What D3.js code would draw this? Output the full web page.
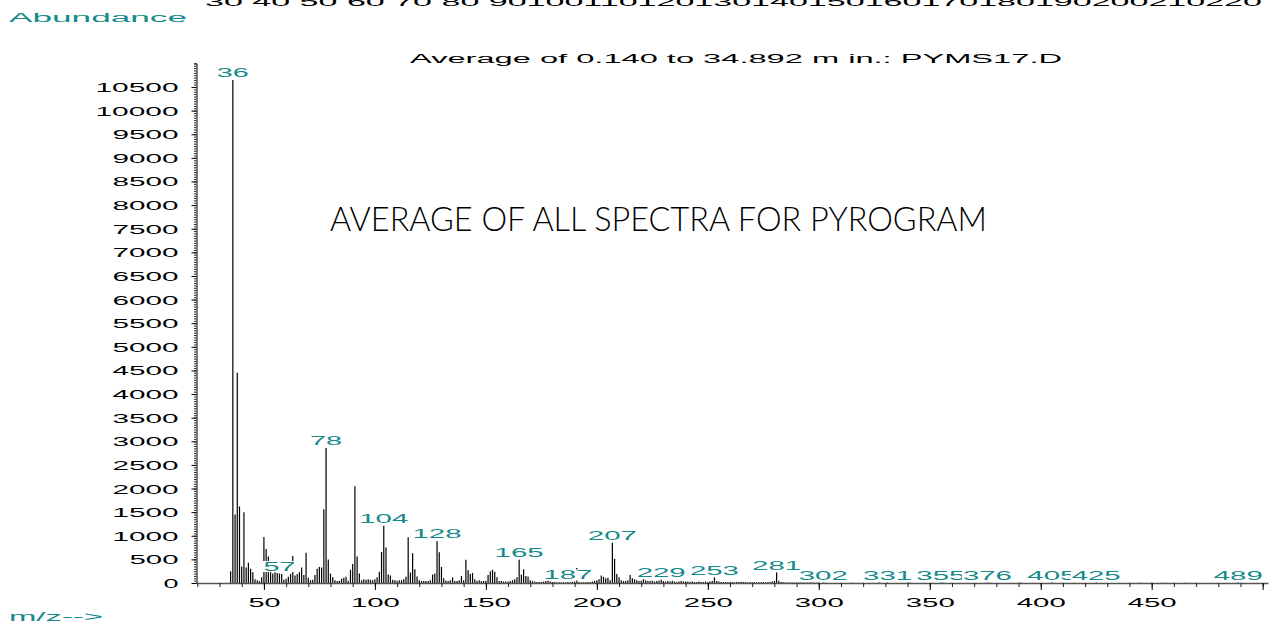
<!DOCTYPE html>
<html><head><meta charset="utf-8">
<script src="https://cdn.jsdelivr.net/npm/d3@7"></script>
<style>html,body{margin:0;padding:0;background:#fff;overflow:hidden}svg{display:block}</style>
</head><body>
<svg id="chart" width="1272" height="627"></svg>
<script>
// ---- data ----
const segAStart = 35;   // m/z 35..99
const segA = [250,10650,1450,4450,1620,350,1500,330,430,300,230,80,60,40,120,
  975,720,560,230,200,230,210,200,190,70,
  90,130,190,570,160,190,230,330,170,640,
  110,60,70,170,300,340,330,1560,2860,500,
  200,120,60,40,50,90,110,130,50,280,
  400,2050,560,200,60,80,70,80,70,60];
const segBStart = 100;  // m/z 100..199
const segB = [80,120,240,660,1210,750,180,160,70,60,
  50,60,60,80,130,970,220,630,290,140,
  60,40,40,40,40,60,180,200,890,650,
  340,100,50,40,60,120,40,40,60,150,
  60,490,270,190,210,80,40,60,40,40,
  50,170,250,280,240,120,40,40,30,30,
  30,40,60,80,120,490,180,290,150,140,
  60,40,30,20,20,20,30,40,60,30,
  20,20,15,15,15,15,15,20,15,20,
  30,320,20,15,15,15,20,20,30,40];
const segCStart = 200;  // m/z 200..300
const segC = [60,80,160,130,100,110,60,850,510,190,
  120,60,40,40,60,170,100,80,60,40,
  50,80,60,40,40,50,30,40,50,70,
  40,30,40,30,50,30,20,30,40,30,
  30,30,20,30,20,20,30,20,20,30,
  20,30,40,120,40,30,20,20,20,20,
  20,20,15,20,20,25,20,20,15,15,
  15,20,15,15,15,20,15,15,20,30,
  40,220,50,20,15,15,10,10,10,10,
  10,10,8,8,8,10,8,8,8,8,8];
const tailMz = [302,303,315,320,327,331,340,341,355,356,376,377,391,405,415,425,440,445,450,455,460,465,470,489];
const tailAbund = [10,5,6,6,8,10,6,8,8,5,8,5,8,8,6,8,6,6,6,6,6,6,6,8];
const labeledPeaks = [36,57,78,104,128,165,187,207,229,253,281,302,331,355,376,405,425,489];
const yMajorTicks = [0,500,1000,1500,2000,2500,3000,3500,4000,4500,5000,5500,6000,6500,7000,7500,8000,8500,9000,9500,10000,10500];
const xMajorTicks = [50,100,150,200,250,300,350,400,450,500];
const xTickLabels = ["50","100","150","200","250","300","350","400","450",""];
const topRuler = "30 40 50 60 70 80 90100110120130140150160170180190200210220";
const titleText = "Average of 0.140 to 34.892 m in.: PYMS17.D";
const noteText = "AVERAGE OF ALL SPECTRA FOR PYROGRAM";

// ---- build spectrum ----
const spectrum = [];
segA.forEach((v,i)=>spectrum.push({mz:segAStart+i, ab:v}));
segB.forEach((v,i)=>spectrum.push({mz:segBStart+i, ab:v}));
segC.forEach((v,i)=>spectrum.push({mz:segCStart+i, ab:v}));
tailMz.forEach((m,i)=>spectrum.push({mz:m, ab:tailAbund[i]}));
const abOf = m => { const p = spectrum.find(d=>d.mz===m); return p ? p.ab : 0; };

const teal = "#148a8a";
const font = "'Liberation Sans', Arial, sans-serif";
const svg = d3.select("#chart");

const x = d3.scaleLinear().domain([19.4, 502.4]).range([196, 1268]);
const y = d3.scaleLinear().domain([0, 11000]).range([583, 63.4]);

function wideText(sel, str, len, size){
  sel.text(str).attr("font-family", font).attr("font-size", size)
    .attr("textLength", len).attr("lengthAdjust","spacingAndGlyphs");
  return sel;
}

// top cut-off ruler
wideText(svg.append("text").attr("x",205).attr("y",5.5).attr("fill","#000"), topRuler, 1057, 12.5);

// Abundance
wideText(svg.append("text").attr("x",9).attr("y",21.5).attr("fill",teal), "Abundance", 178, 12.5);

// title
wideText(svg.append("text").attr("x",410).attr("y",62.5).attr("fill","#000"), titleText, 652, 12.5);

// big note
svg.append("text").attr("x",330).attr("y",231).attr("fill","#000")
  .attr("font-family","Lato, 'Liberation Sans', sans-serif").attr("font-weight",300)
  .attr("font-size",33).attr("textLength",657).attr("lengthAdjust","spacingAndGlyphs")
  .text(noteText);

// y axis minor ticks
const yMinor = d3.range(0, 11001, 50);
svg.append("g").attr("transform","translate(196.5,0)")
  .call(d3.axisLeft(y).tickValues(yMinor).tickSize(2.5).tickFormat(""))
  .call(g=>g.select(".domain").attr("stroke","#000"))
  .call(g=>g.selectAll(".tick line").attr("stroke","#222"));
// y axis major
const yAx = svg.append("g").attr("transform","translate(196.5,0)")
  .call(d3.axisLeft(y).tickValues(yMajorTicks).tickSize(5).tickPadding(13).tickFormat(d3.format("d")))
  .call(g=>g.select(".domain").remove());
yAx.selectAll(".tick line").attr("stroke","#000");
yAx.selectAll(".tick text").each(function(d){
  const s = String(d);
  d3.select(this).attr("font-family",font).attr("font-size",12.5).attr("fill","#000")
    .attr("textLength",17*s.length-2).attr("lengthAdjust","spacingAndGlyphs").attr("dy","0.36em");
});

// bars
svg.append("g").selectAll("line.bar").data(spectrum).join("line")
  .attr("class","bar")
  .attr("x1",d=>x(d.mz)).attr("x2",d=>x(d.mz))
  .attr("y1",y(0)).attr("y2",d=>y(d.ab))
  .attr("stroke","#000").attr("stroke-width",1.2);

// x axis minor
const xMinor = d3.range(20, 501, 10);
svg.append("g").attr("transform","translate(0,583)")
  .call(d3.axisBottom(x).tickValues(xMinor).tickSize(4).tickFormat("").tickSizeOuter(0))
  .call(g=>g.select(".domain").attr("stroke","#555").attr("stroke-width",1.6))
  .call(g=>g.selectAll(".tick line").attr("stroke","#222"));
const xAx = svg.append("g").attr("transform","translate(0,583)")
  .call(d3.axisBottom(x).tickValues(xMajorTicks).tickSize(7).tickPadding(8)
        .tickFormat((d,i)=>xTickLabels[i]))
  .call(g=>g.select(".domain").remove());
xAx.selectAll(".tick line").attr("stroke","#000");
xAx.selectAll(".tick text").each(function(d,i){
  const s = xTickLabels[i];
  d3.select(this).attr("font-family",font).attr("font-size",12.5).attr("fill","#000")
    .attr("textLength",Math.max(1,17*s.length-2)).attr("lengthAdjust","spacingAndGlyphs");
});

// peak labels with white boxes
const lab = svg.append("g");
labeledPeaks.forEach(m=>{
  const s = String(m);
  const w = 17*s.length - 2;
  const cx = x(m);
  const cy = Math.min(y(abOf(m)) - 7, 576.5);
  lab.append("rect").attr("x",cx-w/2-1).attr("y",cy-5.5).attr("width",w+2).attr("height",11).attr("fill","#fff");
  lab.append("text").attr("x",cx).attr("y",cy+4.4).attr("text-anchor","middle")
    .attr("fill",teal).attr("font-family",font).attr("font-size",12.5)
    .attr("textLength",w).attr("lengthAdjust","spacingAndGlyphs").text(s);
});

// m/z label
wideText(svg.append("text").attr("x",9).attr("y",621).attr("fill",teal), "m/z-->", 94, 12.5);
</script>
</body></html>
